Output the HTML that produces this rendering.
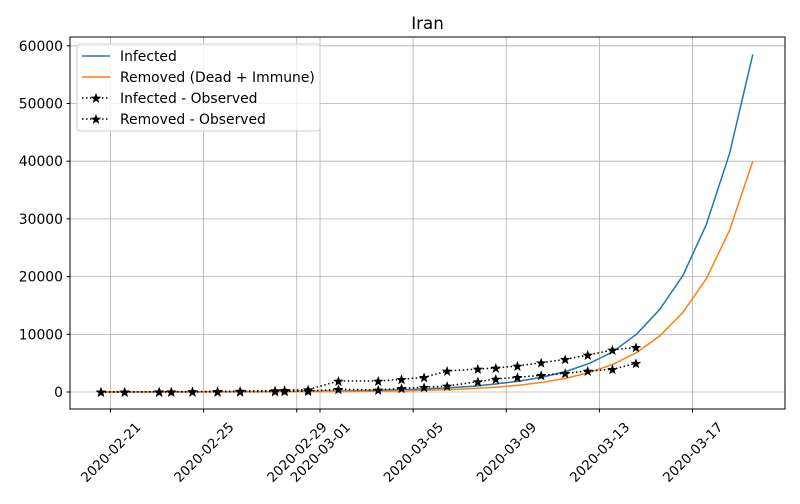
<!DOCTYPE html>
<html><head><meta charset="utf-8"><style>
body{margin:0;background:#fff;font-family:"DejaVu Sans","Liberation Sans",sans-serif}
svg text{font-family:"DejaVu Sans","Liberation Sans",sans-serif}
</style></head><body>
<svg id="chart" width="800" height="500" xmlns="http://www.w3.org/2000/svg">
<rect width="800" height="500" fill="#fff"/>
<text x="427.5" y="29" font-size="16.7" text-anchor="middle">Iran</text>
<g id="grid"></g><g id="series"></g><g id="axes"></g>
<rect x="70" y="37" width="715" height="372" fill="none" stroke="#000" stroke-width="1"/>
<g>
<rect x="77" y="44" width="243" height="87" rx="3" fill="rgba(255,255,255,0.8)" stroke="#ccc"/>
<line x1="82" y1="56" x2="110" y2="56" stroke="#1f77b4" stroke-width="1.5"/>
<text x="120" y="61" font-size="13.9">Infected</text>
<line x1="82" y1="77" x2="110" y2="77" stroke="#ff7f0e" stroke-width="1.5"/>
<text x="120" y="82" font-size="13.9">Removed (Dead + Immune)</text>
<line x1="82" y1="98" x2="110" y2="98" stroke="#000" stroke-width="1.5" stroke-dasharray="1.5,2.5"/>
<polygon id="ls1" fill="#000"/>
<text x="120" y="103" font-size="13.9">Infected - Observed</text>
<line x1="82" y1="119" x2="110" y2="119" stroke="#000" stroke-width="1.5" stroke-dasharray="1.5,2.5"/>
<polygon id="ls2" fill="#000"/>
<text x="120" y="124" font-size="13.9">Removed - Observed</text>
</g>
</svg>
<script>
// day offsets from 2020-02-21
const modelDays=[-0.41,0.59,1.59,2.59,3.59,4.59,5.59,6.59,7.59,8.59,9.59,10.59,11.59,12.59,13.59,14.59,15.59,16.59,17.59,18.59,19.59,20.59,21.59,22.59,23.59,24.59,25.59,26.59,27.59];
const infectedModel=[8,12,16,22,30,40,55,70,90,120,160,220,300,400,550,750,1000,1400,1900,2600,3600,5000,7000,10000,14300,20200,29000,41300,58500];
const removedModel=[2,3,5,7,10,14,20,28,40,55,75,105,150,210,300,430,600,850,1200,1700,2400,3400,4800,6800,9700,13800,19600,28000,40000];
const obsDays=[-0.41,0.61,2.09,2.61,3.52,4.6,5.57,7.07,7.48,8.49,9.79,11.5,12.5,13.47,14.46,15.78,16.55,17.48,18.5,19.53,20.5,21.56,22.57];
const infectedObs=[10,20,40,50,80,110,150,250,300,420,1900,1900,2200,2540,3640,3990,4160,4500,5080,5660,6410,7280,7740];
const removedObs=[5,10,15,20,30,40,60,90,110,150,470,350,630,810,1040,1790,2250,2540,2890,3240,3640,3930,4970];
const yTicks=[0,10000,20000,30000,40000,50000,60000];
const xTickDays=[0,4,8,9,13,17,21,25];
const xTickLabels=["2020-02-21","2020-02-25","2020-02-29","2020-03-01","2020-03-05","2020-03-09","2020-03-13","2020-03-17"];
const NS="http://www.w3.org/2000/svg";
const X=d=>110.5+d*23.28, Y=v=>392-v*57.7/10000;
const grid=document.getElementById('grid'),axes=document.getElementById('axes'),ser=document.getElementById('series');
function mk(tag,attrs,parent){const e=document.createElementNS(NS,tag);for(const k in attrs)e.setAttribute(k,attrs[k]);parent.appendChild(e);return e;}
yTicks.forEach(v=>{
 const g=mk('line',{x1:70,x2:785,y1:Y(v),y2:Y(v),stroke:'#b0b0b0','stroke-width':0.8},grid);
 
 
 mk('line',{x1:66.5,x2:70,y1:Y(v),y2:Y(v),stroke:'#000'},axes);
 const t=mk('text',{x:63,y:Y(v)+5,'font-size':13.9,'text-anchor':'end'},axes);
 t.textContent=v;
 
 
});
xTickDays.forEach((d,i)=>{
 const x=X(d);
 const g=mk('line',{x1:x,x2:x,y1:37,y2:409,stroke:'#b0b0b0','stroke-width':0.8},grid);
 
 
 mk('line',{x1:x,x2:x,y1:409,y2:412.5,stroke:'#000'},axes);
 const cy=452;
 const t=mk('text',{x:x,y:cy+5,'font-size':13.4,'text-anchor':'middle',transform:`rotate(-45 ${x} ${cy})`},axes);
 t.textContent=xTickLabels[i];
 
 
});
function star(cx,cy,r){let p=[];for(let i=0;i<10;i++){const a=-Math.PI/2+i*Math.PI/5,rr=i%2?r*0.42:r;p.push((cx+rr*Math.cos(a)).toFixed(2)+','+(cy+rr*Math.sin(a)).toFixed(2));}return p.join(' ');}
function line(days,vals,color,dash,name){
 const pts=days.map((d,i)=>X(d)+','+Y(vals[i])).join(' ');
 const a={points:pts,fill:'none',stroke:color,'stroke-width':1.5};if(dash)a['stroke-dasharray']=dash;
 const e=mk('polyline',a,ser);
 
 
}
line(modelDays,infectedModel,'#1f77b4',null,'infected-line');
line(modelDays,removedModel,'#ff7f0e',null,'removed-line');
[[infectedObs,'infected-observed'],[removedObs,'removed-observed']].forEach(([vals,nm])=>{
 line(obsDays,vals,'#000','1.5,2.5',nm+'-line');
 obsDays.forEach((d,i)=>{
  const s=mk('polygon',{points:star(X(d),Y(vals[i])+0.5,5.5),fill:'#000'},ser);
  
  
 });
});
document.getElementById('ls1').setAttribute('points',star(96,98.5,5.5));
document.getElementById('ls2').setAttribute('points',star(96,119.5,5.5));
</script>
</body></html>
